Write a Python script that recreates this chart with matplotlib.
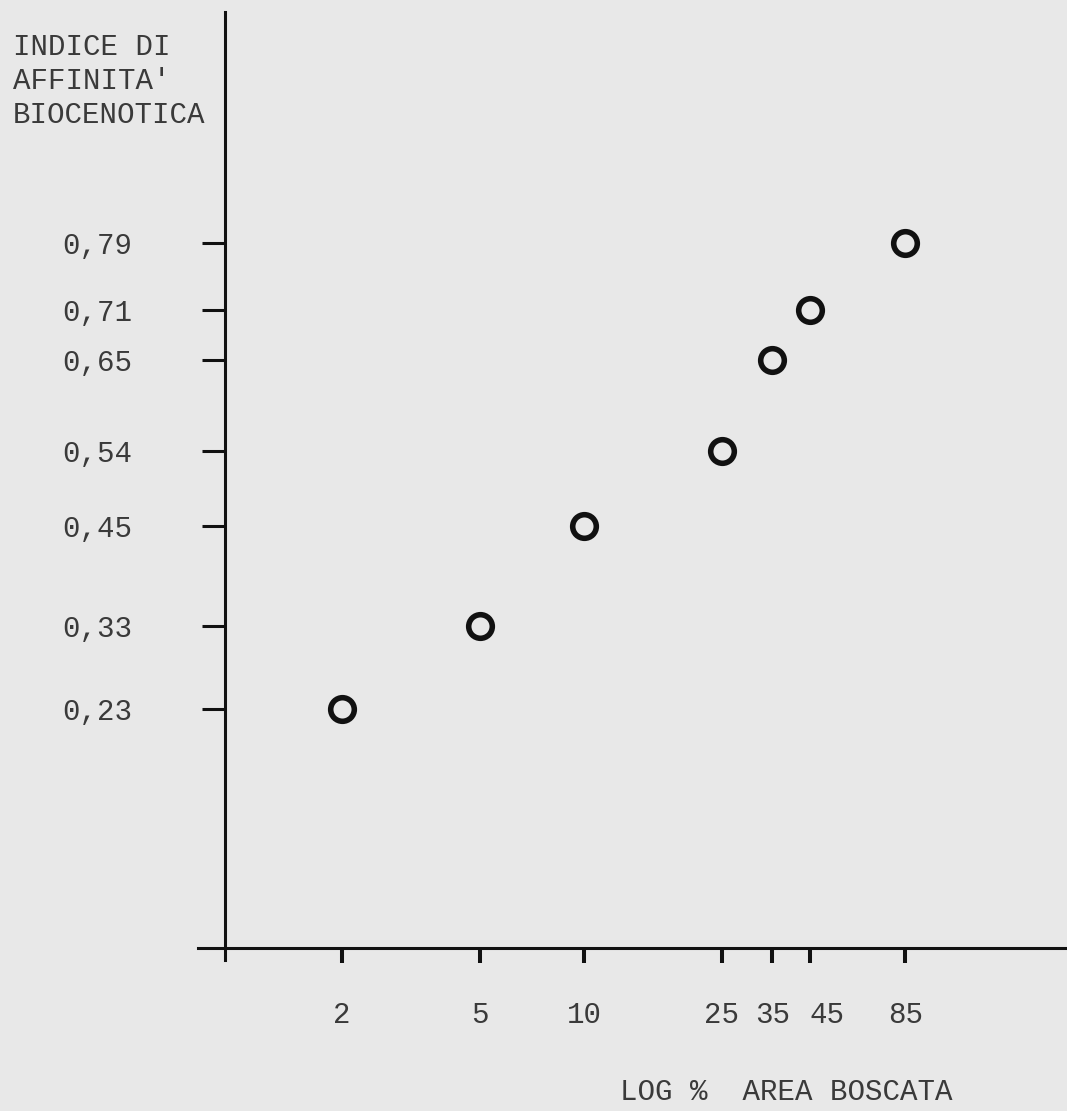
import numpy as np
import matplotlib
matplotlib.use("Agg")
import matplotlib.pyplot as plt
from matplotlib.transforms import ScaledTranslation

# dati
area_boscata = [2, 5, 10, 25, 35, 45, 85]
indice_affinita = [0.23, 0.33, 0.45, 0.54, 0.65, 0.71, 0.79]
x_tick_labels = ["2", "5", "10", "25", "35", "45", "85"]
y_tick_labels = ["0,23", "0,33", "0,45", "0,54", "0,65", "0,71", "0,79"]

bg = "#e8e8e8"
ink = "#111111"
txt = "#3a3a3a"
plt.rcParams['font.family'] = ['Liberation Mono', 'DejaVu Sans Mono']

W, H = 1067, 1111
fig = plt.figure(figsize=(W / 100, H / 100), dpi=100)
fig.patch.set_facecolor(bg)

# assi: riquadro in pixel 198..1067 x 12..960
left, right, top, bottom = 198, 1067, 12, 960
ax = fig.add_axes([left / W, 1 - bottom / H, (right - left) / W, (bottom - top) / H])
ax.set_facecolor(bg)

ax.set_xscale('log')
ax.set_xlim(0.767, 249)
ax.set_ylim(-0.072, 1.068)

ax.plot(area_boscata, indice_affinita, 'o', ms=17, mew=4,
        mec=ink, mfc=bg, zorder=3, clip_on=False)

for s in ['top', 'right']:
    ax.spines[s].set_visible(False)
ax.spines['left'].set_position(('axes', (225 - left) / (right - left)))
ax.spines['bottom'].set_position(('axes', (bottom - 948) / (bottom - top)))
for s in ['left', 'bottom']:
    ax.spines[s].set_linewidth(2.2)
    ax.spines[s].set_color(ink)

ax.set_xticks(area_boscata)
ax.set_xticklabels(x_tick_labels)
ax.xaxis.set_minor_locator(matplotlib.ticker.NullLocator())
ax.set_yticks(indice_affinita)
ax.set_yticklabels(y_tick_labels)

ax.tick_params(axis='x', direction='out', length=11, width=2.9, color=ink,
               pad=27, labelsize=21, labelcolor=txt)
ax.tick_params(axis='y', direction='out', length=16.5, width=2.2, color=ink,
               pad=50, labelsize=21, labelcolor=txt)

# "45" battuto un po' a destra nell'originale
lab45 = ax.get_xticklabels()[x_tick_labels.index("45")]
lab45.set_transform(lab45.get_transform() + ScaledTranslation(12 / 72, 0, fig.dpi_scale_trans))

fig.text(13 / W, 1 - 33 / H, "INDICE DI\nAFFINITA'\nBIOCENOTICA", fontsize=21,
         color=txt, ha='left', va='top', linespacing=1.27)
fig.text(620 / W, 1 - 1092 / H, "LOG %  AREA BOSCATA", fontsize=21,
         color=txt, ha='left', va='center')

fig.savefig("out.png", dpi=100, facecolor=bg)
